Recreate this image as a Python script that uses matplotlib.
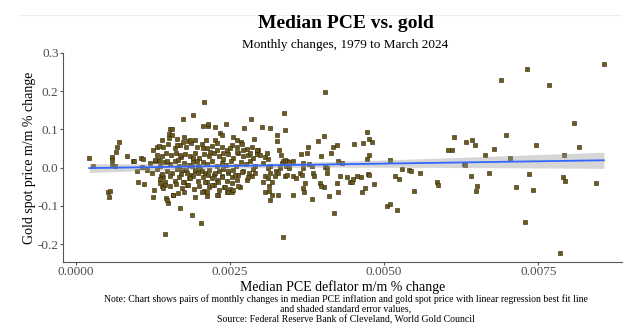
import numpy as np
import matplotlib.pyplot as plt
from matplotlib.lines import Line2D

# monthly changes: median PCE deflator m/m (x) and gold spot m/m (y)
# low-inflation months, left side of the cloud
pce_left = [0.000216, 0.000281, 0.000525, 0.000552, 0.000530, 0.000579, 0.000590, 0.000660,
            0.000693, 0.000649, 0.000579, 0.000633, 0.000833, 0.000931, 0.000942, 0.001055,
            0.001093, 0.000996, 0.001006, 0.001104, 0.001066, 0.001245, 0.001310, 0.001347,
            0.001272, 0.001255, 0.001337, 0.001364, 0.001380, 0.001418, 0.001396, 0.001461,
            0.001488, 0.001445, 0.001569, 0.001688, 0.001883, 0.002024, 0.002078, 0.001894,
            0.001742, 0.002841, 0.002067, 0.002148, 0.002137, 0.002262, 0.002441, 0.002727,
            0.001526, 0.001564, 0.001515, 0.001558, 0.001634, 0.001753, 0.001824, 0.001932,
            0.002105, 0.002256, 0.002338, 0.002365, 0.002554, 0.002608, 0.002673, 0.002890,
            0.002960]
gold_left = [0.026, 0.003, -0.064, -0.061, -0.076, 0.028, 0.020, 0.053,
             0.066, 0.041, 0.006, 0.004, 0.029, 0.016, 0.018, 0.026,
             0.023, -0.010, -0.037, -0.044, 0.001, 0.046, 0.053, 0.057,
             -0.058, -0.076, 0.020, 0.018, -0.021, -0.025, -0.048, -0.080,
             -0.093, -0.173, -0.071, -0.106, -0.123, -0.146, 0.171, 0.137,
             0.128, 0.127, 0.109, 0.110, 0.113, 0.105, 0.113, 0.103,
             0.100, 0.100, 0.088, 0.086, 0.074, 0.079, 0.070, 0.073,
             0.073, 0.071, 0.090, 0.086, 0.079, 0.073, 0.066, 0.074,
             0.046]

# dense core around 0.0013-0.0030
pce_core = [0.001418, 0.001499, 0.001607, 0.001688, 0.001786, 0.001867, 0.001959, 0.002040,
            0.002121, 0.002202, 0.002284, 0.002376, 0.002446, 0.002527, 0.002608, 0.002689,
            0.002771, 0.002852, 0.002933,
            0.001310, 0.001391, 0.001461, 0.001537, 0.001623, 0.001699, 0.001770, 0.001851,
            0.001926, 0.002002, 0.002078, 0.002159, 0.002240, 0.002316, 0.002392, 0.002473,
            0.002554, 0.002635, 0.002706, 0.002787, 0.002868, 0.002944,
            0.001201, 0.001282, 0.001364, 0.001445, 0.001526, 0.001607, 0.001678, 0.001753,
            0.001829, 0.001905, 0.001981, 0.002056, 0.002132, 0.002208, 0.002284, 0.002365,
            0.002441, 0.002516, 0.002597, 0.002673, 0.002754, 0.002830, 0.002911,
            0.001158, 0.001234, 0.001310, 0.001391, 0.001472, 0.001553, 0.001634, 0.001710,
            0.001786, 0.001861, 0.001937, 0.002013, 0.002089, 0.002164, 0.002240, 0.002316,
            0.002392, 0.002473, 0.002554, 0.002635, 0.002716, 0.002803, 0.002879,
            0.001364, 0.001445, 0.001526, 0.001602, 0.001678, 0.001753, 0.001829, 0.001905,
            0.001981, 0.002056, 0.002132, 0.002208, 0.002284, 0.002365, 0.002446, 0.002527,
            0.002619, 0.002771, 0.002852,
            0.001526, 0.001623, 0.001715, 0.001797, 0.001916, 0.002002, 0.002083, 0.002159,
            0.002240, 0.002327, 0.002408, 0.002500, 0.002662,
            0.001661, 0.001753, 0.001932, 0.002040, 0.002121, 0.002305, 0.002446, 0.002527]
gold_core = [0.055, 0.062, 0.051, 0.059, 0.053, 0.064, 0.055, 0.061,
             0.051, 0.057, 0.064, 0.053, 0.046, 0.059, 0.053, 0.062,
             0.048, 0.055, 0.042,
             0.033, 0.029, 0.038, 0.032, 0.039, 0.027, 0.035, 0.029,
             0.039, 0.025, 0.035, 0.029, 0.038, 0.031, 0.023, 0.036,
             0.026, 0.038, 0.029, 0.033, 0.025, 0.035,
             0.011, 0.016, 0.004, 0.014, 0.009, 0.018, 0.004, 0.013,
             0.007, 0.018, 0.004, 0.015, 0.009, 0.018, 0.004, 0.013,
             0.007, 0.018, 0.004, 0.014, 0.009, 0.018, 0.004,
             -0.006, -0.015, -0.004, -0.017, -0.008, -0.015, -0.003, -0.017,
             -0.006, -0.019, -0.009, -0.003, -0.015, -0.006, -0.019, -0.009,
             -0.003, -0.015, -0.006, -0.019, -0.009, -0.015, -0.004,
             -0.030, -0.037, -0.023, -0.034, -0.025, -0.037, -0.028, -0.022,
             -0.034, -0.025, -0.037, -0.028, -0.032, -0.023, -0.036, -0.025,
             -0.032, -0.032, -0.023,
             -0.048, -0.043, -0.054, -0.046, -0.057, -0.048, -0.060, -0.051,
             -0.045, -0.058, -0.050, -0.057, -0.050,
             -0.067, -0.065, -0.076, -0.065, -0.074, -0.071, -0.063, -0.065]

# extra overlapping months in the core, read from close-ups
pce_fill = [0.001515, 0.001391, 0.001634, 0.001742, 0.001851, 0.001688, 0.001661, 0.001283,
            0.001472, 0.001905, 0.001959, 0.001878, 0.001932, 0.001986, 0.001716, 0.001797,
            0.001851, 0.001742, 0.001823, 0.001364, 0.001445, 0.001418, 0.001472, 0.001580,
            0.002067, 0.002175, 0.002284, 0.002392, 0.002500, 0.002608, 0.002716, 0.002825,
            0.002933, 0.002040, 0.002148, 0.002257, 0.002365, 0.002473, 0.002581, 0.002690,
            0.002798, 0.002906, 0.002094, 0.002202, 0.002310, 0.002419, 0.002527, 0.002635,
            0.002121, 0.002284, 0.002473, 0.002554]
gold_fill = [0.077, 0.072, 0.059, 0.068, 0.072, 0.033, 0.020, 0.020,
             0.016, 0.025, 0.016, 0.003, -0.006, -0.015, -0.006, -0.015,
             -0.028, -0.037, -0.045, -0.041, -0.045, -0.054, -0.085, -0.071,
             0.051, 0.042, 0.046, 0.038, 0.051, 0.042, 0.046, 0.038,
             0.046, -0.010, -0.019, -0.015, -0.024, -0.010, -0.019, -0.012,
             -0.024, -0.015, -0.037, -0.045, -0.038, -0.050, -0.041, -0.047,
             -0.063, -0.071, -0.064, -0.058]

# middle range 0.0030-0.0059
pce_mid = [0.004048, 0.003382, 0.003393, 0.003014, 0.003149, 0.003258, 0.003258, 0.004026,
           0.003923, 0.003772, 0.003745, 0.003653, 0.004139, 0.004177, 0.004231, 0.004258,
           0.004318, 0.003972, 0.004513, 0.004654, 0.004724, 0.004762, 0.004800, 0.004751,
           0.004719, 0.005098, 0.003095, 0.003068, 0.003122, 0.002987, 0.003041, 0.003149,
           0.003301, 0.003323, 0.003339, 0.003366, 0.003393, 0.003431, 0.003463, 0.003517,
           0.003409, 0.003463, 0.003312, 0.003247, 0.003285, 0.003122, 0.003149, 0.003068,
           0.003041, 0.003122, 0.003176, 0.003231, 0.003393, 0.003420, 0.003528, 0.003571,
           0.003636, 0.003664, 0.003690, 0.003788, 0.003826, 0.003842, 0.003864, 0.003690,
           0.003718, 0.003690, 0.003701, 0.003528, 0.003133, 0.003139, 0.003176, 0.003279,
           0.003068, 0.003149, 0.003961, 0.004026, 0.004042, 0.004080, 0.004080, 0.003972,
           0.004112, 0.004193, 0.004231, 0.004247, 0.004285, 0.004405, 0.004448, 0.004475,
           0.004491, 0.004567, 0.004627, 0.004648, 0.004692, 0.004735, 0.004762, 0.004838,
           0.003832, 0.003366, 0.005044, 0.005103, 0.005211, 0.005184, 0.005244, 0.005287,
           0.005400, 0.005433, 0.005585, 0.005493, 0.005866, 0.005871]
gold_mid = [0.197, 0.142, 0.099, 0.107, 0.104, 0.086, 0.070, 0.083,
            0.070, 0.055, 0.039, 0.035, 0.039, 0.053, 0.059, 0.018,
            0.013, 0.029, 0.061, 0.064, 0.093, 0.075, 0.068, 0.032,
            0.022, 0.020, 0.038, 0.027, 0.022, 0.033, 0.011, 0.003,
            0.046, 0.033, 0.011, 0.018, 0.020, 0.018, 0.015, 0.016,
            0.004, -0.002, -0.002, -0.010, -0.015, -0.002, -0.015, -0.023,
            -0.037, -0.026, -0.037, -0.023, -0.023, -0.019, -0.023, -0.028,
            -0.015, -0.019, 0.011, 0.010, 0.003, -0.015, -0.023, -0.002,
            -0.041, -0.054, -0.063, -0.071, -0.048, -0.060, -0.071, -0.071,
            -0.063, -0.085, -0.041, -0.052, 0.001, -0.001, -0.015, -0.048,
            -0.074, -0.119, -0.041, -0.064, -0.023, -0.025, -0.037, -0.037,
            -0.030, -0.021, -0.025, -0.063, -0.054, -0.017, -0.019, -0.043,
            -0.083, -0.182, -0.100, -0.096, -0.111, -0.023, -0.029, -0.004,
            -0.006, -0.009, -0.013, -0.061, -0.039, -0.045]

# high-inflation months on the right
pce_right = [0.008566, 0.007321, 0.006899, 0.007673, 0.008074, 0.006131, 0.006331, 0.006434,
             0.006477, 0.006981, 0.006039, 0.006104, 0.006780, 0.007462, 0.008160, 0.006634,
             0.007035, 0.007911, 0.006299, 0.006320, 0.006407, 0.006699, 0.007348, 0.007900,
             0.007938, 0.008436, 0.006504, 0.006494, 0.007132, 0.007413, 0.007278, 0.007852]
gold_right = [0.271, 0.258, 0.229, 0.217, 0.117, 0.079, 0.066, 0.073,
              0.059, 0.086, 0.045, 0.045, 0.049, 0.060, 0.055, 0.032,
              0.026, 0.032, 0.009, 0.007, -0.023, -0.013, -0.016, -0.025,
              -0.036, -0.040, -0.049, -0.062, -0.050, -0.058, -0.142, -0.223]

x = np.array(pce_left + pce_core + pce_fill + pce_mid + pce_right)
y = np.array(gold_left + gold_core + gold_fill + gold_mid + gold_right)

# linear fit with standard error band (like geom_smooth(method='lm'))
slope, intercept = np.polyfit(x, y, 1)
xs = np.linspace(x.min(), x.max(), 100)
ys = intercept + slope * xs
n = len(x)
resid = y - (intercept + slope * x)
s = np.sqrt(np.sum(resid ** 2) / (n - 2))
sxx = np.sum((x - x.mean()) ** 2)
se = s * np.sqrt(1 / n + (xs - x.mean()) ** 2 / sxx)
band = 1.96 * se

plt.rcParams['font.family'] = ['Liberation Serif', 'DejaVu Serif']

fig = plt.figure(figsize=(6.4, 3.35), dpi=100)
ax = fig.add_axes([0.0984, 0.218, 0.8735, 0.624])

ax.scatter(x, y, marker='s', s=6.5, facecolor='#6e5b1c', edgecolor='#2b2408', linewidth=0.4, zorder=2)
ax.fill_between(xs, ys - band, ys + band, color='#999999', alpha=0.4, linewidth=0, zorder=3)
ax.plot(xs, ys, color='#3366FF', linewidth=1.3, zorder=4)

ax.set_xlim(-0.00021, 0.00886)
ax.set_ylim(-0.247, 0.300)
ax.set_xticks([0.0, 0.0025, 0.005, 0.0075])
ax.set_xticklabels(['0.0000', '0.0025', '0.0050', '0.0075'])
ax.set_yticks([-0.2, -0.1, 0.0, 0.1, 0.2, 0.3])
ax.set_yticklabels(['-0.2', '-0.1', '0.0', '0.1', '0.2', '0.3'])

for side in ['top', 'right']:
    ax.spines[side].set_visible(False)
for side in ['left', 'bottom']:
    ax.spines[side].set_color('#555555')
    ax.spines[side].set_linewidth(0.8)
ax.tick_params(colors='#555555', labelcolor='#4d4d4d', labelsize=9.5, length=2.2, width=0.8, pad=1)

ax.set_xlabel('Median PCE deflator m/m % change', fontsize=10, labelpad=1)
ax.set_ylabel('Gold spot price m/m % change', fontsize=10, labelpad=1)

# faint rule along the top edge of the screenshot
fig.add_artist(Line2D([0.03, 0.97], [0.955, 0.955], transform=fig.transFigure,
                      color='#eeeeee', linewidth=0.8))

fig.text(0.54, 0.930, 'Median PCE vs. gold', ha='center', va='center', fontsize=14, fontweight='bold')
fig.text(0.54, 0.866, 'Monthly changes, 1979 to March 2024', ha='center', va='center', fontsize=9.5)
fig.text(0.54, 0.078, 'Note: Chart shows pairs of monthly changes in median PCE inflation and gold spot price '
         'with linear regression best fit line\nand shaded standard error values,\n'
         'Source: Federal Reserve Bank of Cleveland, World Gold Council',
         ha='center', va='center', fontsize=7, linespacing=1.12)

fig.savefig('out.png', dpi=100)
